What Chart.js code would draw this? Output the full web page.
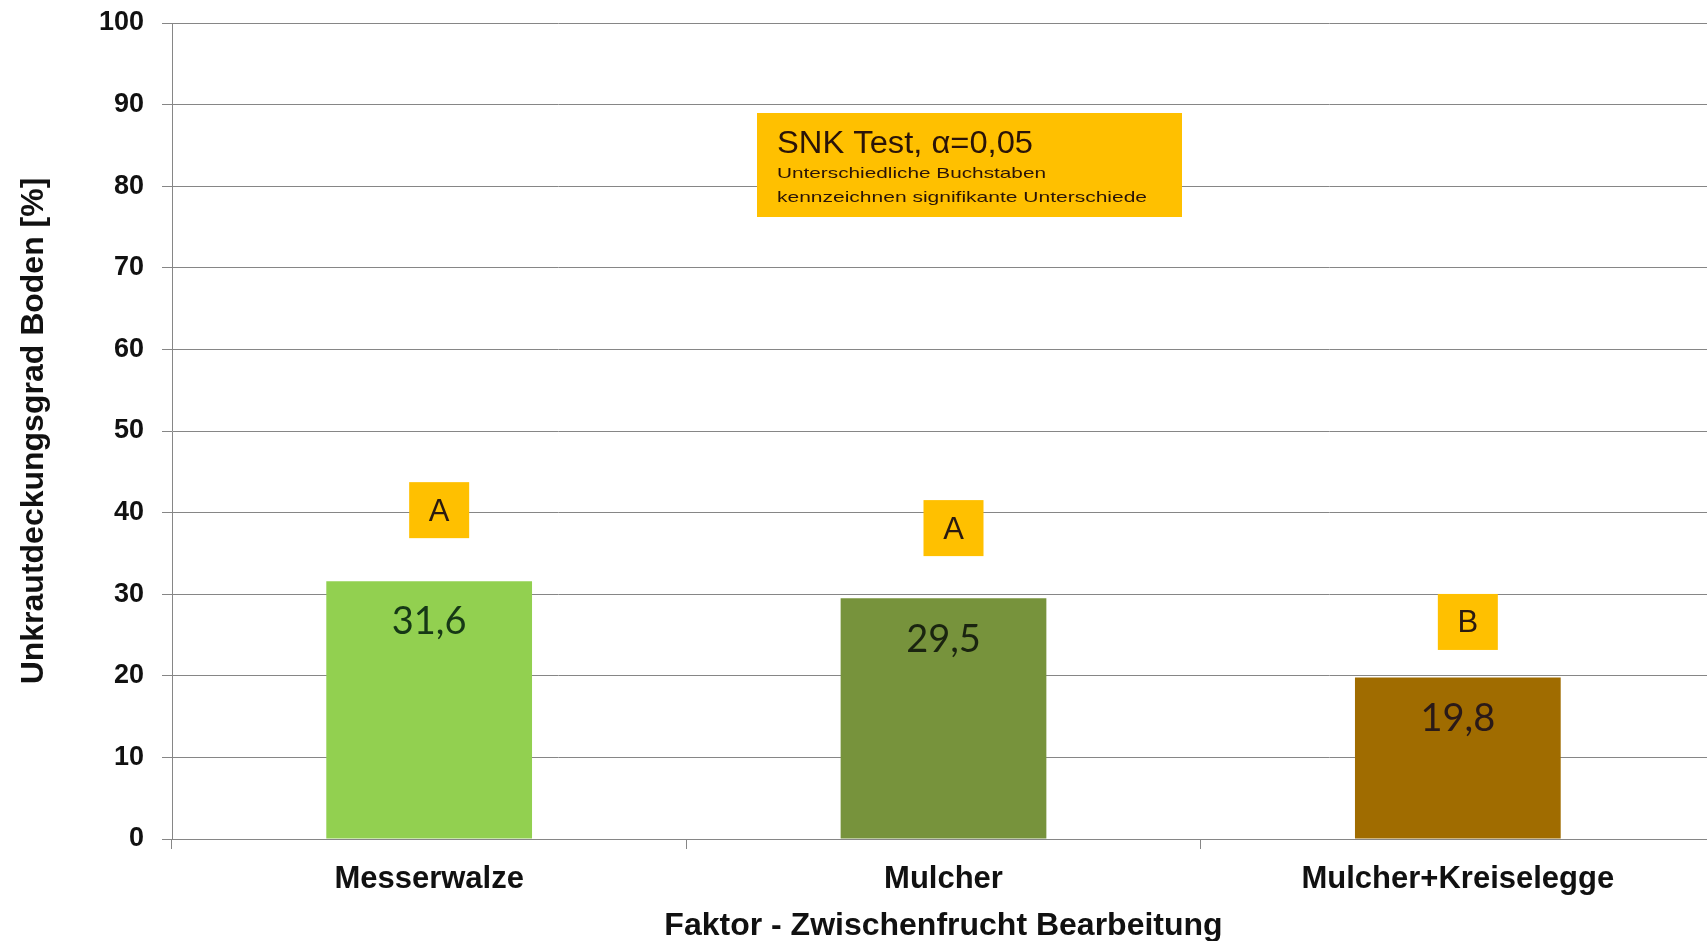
<!DOCTYPE html>
<html>
<head>
<meta charset="utf-8">
<script src="https://cdn.jsdelivr.net/npm/chart.js@4.4.1/dist/chart.umd.min.js"></script>
<style>
  html, body { margin: 0; padding: 0; background: #fff; overflow: hidden; }
  #wrap { width: 1715px; height: 941px; position: relative; }
</style>
</head>
<body>
<div id="wrap"><canvas id="chart"></canvas></div>
<script>
// Data
const categories = ['Messerwalze', 'Mulcher', 'Mulcher+Kreiselegge'];
const values = [31.6, 29.5, 19.8];
const barColors = ['#92D050', '#77933C', '#A06C00'];
const labelColors = ['#163816', '#1a2410', '#2a1a18'];
const groupLetters = ['A', 'A', 'B'];
const letterLevels = [40.3, 38.1, 26.6];   // height (axis units) of the letter boxes
const yTicks = [0, 10, 20, 30, 40, 50, 60, 70, 80, 90, 100];
const yTitle = 'Unkrautdeckungsgrad Boden [%]';
const xTitle = 'Faktor - Zwischenfrucht Bearbeitung';
const noteTitle = 'SNK Test, \u03b1=0,05';
const noteLines = ['Unterschiedliche Buchstaben', 'kennzeichnen signifikante Unterschiede'];

const SANS = '"Liberation Sans", Arial, sans-serif';
const GRID = '#868686';

// draw text stretched/squeezed to a given width
function fitText(ctx, text, x, y, width) {
  const w = ctx.measureText(text).width;
  ctx.save();
  ctx.translate(x, y);
  ctx.scale(width / w, 1);
  ctx.fillText(text, 0, 0);
  ctx.restore();
}

const annotations = {
  id: 'annotations',
  afterDatasetsDraw(chart) {
    const ctx = chart.ctx;
    const yScale = chart.scales.y;
    const bars = chart.getDatasetMeta(0).data;
    ctx.save();
    ctx.textAlign = 'center';
    ctx.textBaseline = 'middle';
    bars.forEach((bar, i) => {
      // value inside the bar
      ctx.font = '38px Lato, sans-serif';
      ctx.fillStyle = labelColors[i];
      ctx.fillText(values[i].toFixed(1).replace('.', ','), bar.x, bar.y + 41);

      // significance letter
      const cy = yScale.getPixelForValue(letterLevels[i]);
      const cx = bar.x + 10;
      ctx.fillStyle = '#FFC000';
      ctx.fillRect(cx - 30, cy - 28, 60, 56);
      ctx.fillStyle = '#2b1a10';
      ctx.font = '31px ' + SANS;
      ctx.fillText(groupLetters[i], cx, cy + 2);
    });

    // SNK note box
    ctx.fillStyle = '#FFC000';
    ctx.fillRect(757, 113, 425, 104);
    ctx.fillStyle = '#2a1408';
    ctx.textAlign = 'left';
    ctx.textBaseline = 'alphabetic';
    ctx.font = '31px ' + SANS;
    fitText(ctx, noteTitle, 777, 153, 256);
    ctx.font = '15px ' + SANS;
    fitText(ctx, noteLines[0], 777, 178, 269);
    fitText(ctx, noteLines[1], 777, 202, 370);
    ctx.restore();
  }
};

new Chart(document.getElementById('chart'), {
  type: 'bar',
  data: {
    labels: categories,
    datasets: [{
      data: values,
      backgroundColor: barColors,
      borderWidth: 0,
      barPercentage: 0.8,
      categoryPercentage: 0.5,
    }]
  },
  options: {
    responsive: true,
    maintainAspectRatio: false,
    animation: false,
    layout: { padding: { top: 23, right: 0, bottom: 0, left: 0 } },
    plugins: { legend: { display: false }, tooltip: { enabled: false } },
    scales: {
      x: {
        afterFit: s => { s.height = 102; s.paddingLeft = 0; s.paddingRight = 0; },
        grid: { drawOnChartArea: false, drawTicks: true, tickLength: 10, color: GRID },
        border: { color: GRID },
        ticks: { color: '#111', padding: 12, font: { family: SANS, size: 31, weight: 'bold' } },
        title: { display: true, text: xTitle, color: '#111', padding: { top: 0, bottom: -4 },
          font: { family: SANS, size: 32, weight: 'bold' } },
      },
      y: {
        min: 0, max: 100,
        afterFit: s => { s.width = 172; s.paddingTop = 0; s.paddingBottom = 0; },
        afterBuildTicks: s => { s.ticks = yTicks.map(v => ({ value: v })); },
        grid: { color: GRID, tickLength: 10 },
        border: { color: GRID },
        ticks: { color: '#111', padding: 18, font: { family: SANS, size: 27, weight: 'bold' } },
        title: { display: true, text: yTitle, color: '#111', padding: { top: 15, bottom: 0 },
          font: { family: SANS, size: 32, weight: 'bold' } },
      }
    }
  },
  plugins: [annotations]
});
</script>
</body>
</html>
